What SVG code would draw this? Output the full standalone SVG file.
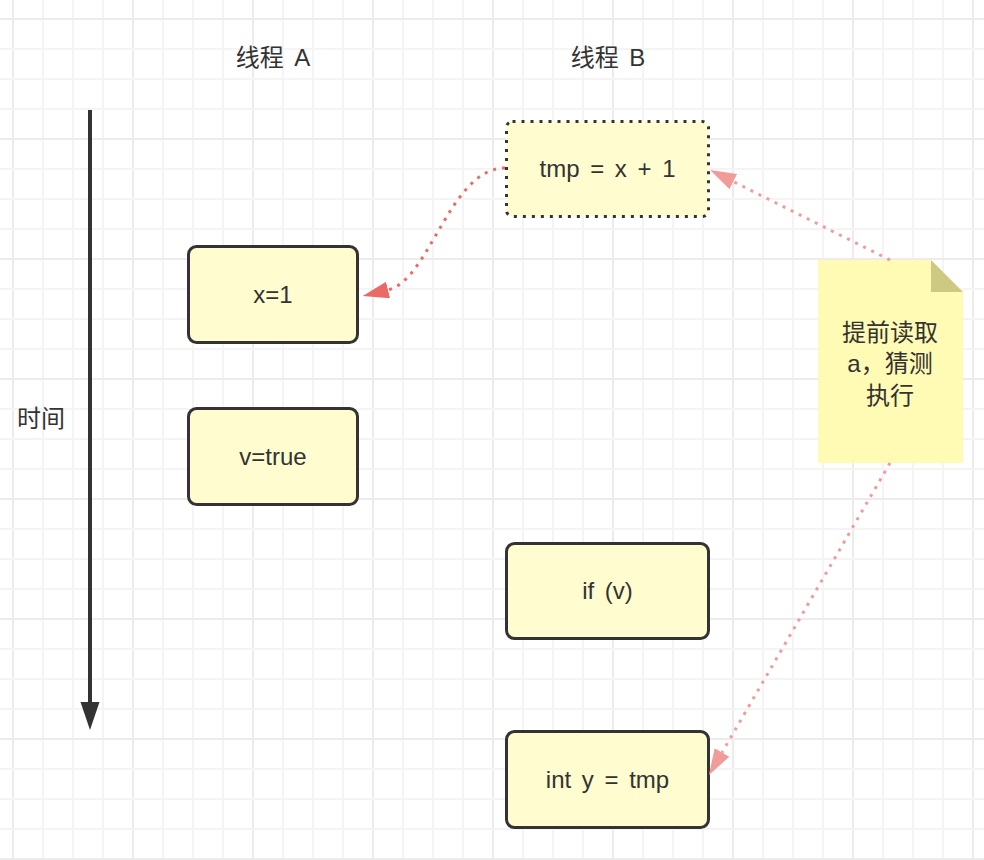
<svg xmlns="http://www.w3.org/2000/svg" width="984" height="860" viewBox="0 0 984 860">
<style>
  text { font-family: "Liberation Sans", "Noto Sans CJK SC", sans-serif; font-size: 24px; fill: #333333; text-anchor: middle; word-spacing: 4px; }
  .box { fill: #fffdd0; stroke: #333333; stroke-width: 3; }
  .dotted { stroke-dasharray: 3 6; }
  .conn { fill: none; stroke-width: 3; stroke-dasharray: 3 6; }
  .red { stroke: #ea6b66; }
  .pink { stroke: #f19c99; }
</style>
<defs>
  <pattern id="grid" patternUnits="userSpaceOnUse" x="12" y="18" width="120" height="120">
    <rect x="0" y="0" width="2" height="120" fill="#ececec"/>
    <rect x="30" y="0" width="2" height="120" fill="#f4f4f4"/>
    <rect x="60" y="0" width="2" height="120" fill="#f4f4f4"/>
    <rect x="90" y="0" width="2" height="120" fill="#f4f4f4"/>
    <rect x="0" y="30" width="120" height="2" fill="#f4f4f4"/>
    <rect x="0" y="60" width="120" height="2" fill="#f4f4f4"/>
    <rect x="0" y="90" width="120" height="2" fill="#f4f4f4"/>
    <rect x="0" y="0" width="120" height="2" fill="#ececec"/>
  </pattern>
  <marker id="arrRed" markerUnits="userSpaceOnUse" markerWidth="27" markerHeight="18" viewBox="0 0 27 18" refX="0" refY="8.5" orient="auto">
    <path d="M0,0 L26,8.5 L0,17 Z" fill="#ea6b66"/>
  </marker>
  <marker id="arrPink" markerUnits="userSpaceOnUse" markerWidth="27" markerHeight="18" viewBox="0 0 27 18" refX="0" refY="8.5" orient="auto">
    <path d="M0,0 L26,8.5 L0,17 Z" fill="#f19c99"/>
  </marker>
</defs>
<rect x="0" y="0" width="984" height="860" fill="#ffffff"/>
<rect x="0" y="0" width="984" height="860" fill="url(#grid)"/>

<g id="label-thread-a"><text x="273" y="66">线程 A</text></g>
<g id="label-thread-b"><text x="608" y="66">线程 B</text></g>

<g id="timeline">
  <line x1="90" y1="110" x2="90" y2="705" stroke="#333333" stroke-width="4"/>
  <polygon points="80.5,702 99.5,702 90,730" fill="#333333"/>
</g>
<g id="label-time"><text x="41" y="427">时间</text></g>

<g id="node-x1">
  <rect class="box" x="188.5" y="246.5" width="169" height="96" rx="8"/>
  <text x="273" y="303">x=1</text>
</g>
<g id="node-vtrue">
  <rect class="box" x="188.5" y="408.5" width="169" height="96" rx="8"/>
  <text x="273" y="465">v=true</text>
</g>
<g id="node-tmp">
  <rect class="box dotted" x="506.5" y="121.5" width="202" height="95" rx="6"/>
  <text x="607.5" y="177">tmp = x + 1</text>
</g>
<g id="node-ifv">
  <rect class="box" x="506.5" y="543.5" width="202" height="95" rx="8"/>
  <text x="607.5" y="599">if (v)</text>
</g>
<g id="node-inty">
  <rect class="box" x="506.5" y="731.5" width="202" height="96" rx="8"/>
  <text x="607.5" y="788">int y = tmp</text>
</g>

<g id="note">
  <polygon points="818,260 931,260 963,292 963,463 818,463" fill="#fffab4"/>
  <polygon points="931,260 963,292 931,292" fill="#cdc983"/>
  <text x="890" y="341">提前读取</text>
  <text x="890" y="372">a，猜测</text>
  <text x="890" y="404">执行</text>
</g>

<g id="connectors">
  <path class="conn red" d="M505,168 C450,168 430,280 388,290" marker-end="url(#arrRed)"/>
  <line class="conn pink" x1="890" y1="260" x2="733.3" y2="181.6" marker-end="url(#arrPink)"/>
  <line class="conn pink" x1="890" y1="463" x2="722" y2="752.5" marker-end="url(#arrPink)"/>
</g>
</svg>
